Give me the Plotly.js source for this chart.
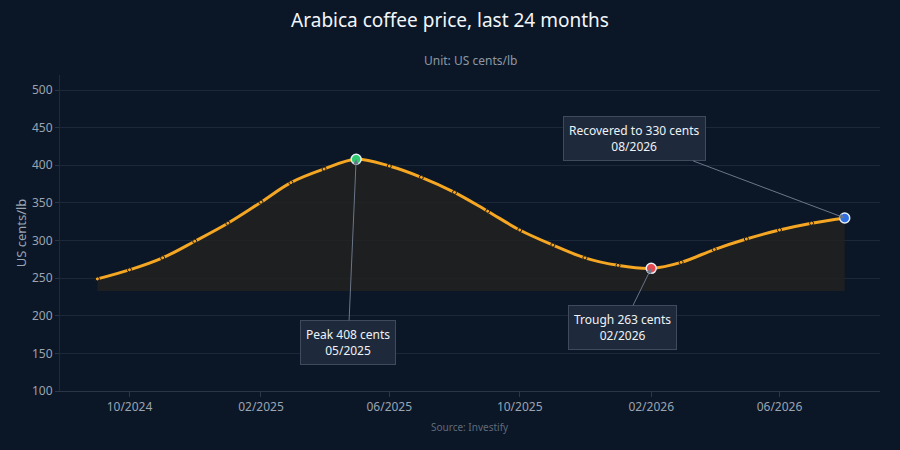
<!DOCTYPE html>
<html>
<head>
<meta charset="utf-8">
<script src="https://cdn.plot.ly/plotly-3.0.1.min.js"></script>
<style>
  html, body { margin: 0; padding: 0; background: #0b1727; }
  #chart { width: 900px; height: 450px; }
</style>
</head>
<body>
<div id="chart"></div>
<script>
// monthly prices, US cents/lb
const months = ["2024-09-01","2024-10-01","2024-11-01","2024-12-01","2025-01-01","2025-02-01",
  "2025-03-01","2025-04-01","2025-05-01","2025-06-01","2025-07-01","2025-08-01",
  "2025-09-01","2025-10-01","2025-11-01","2025-12-01","2026-01-01","2026-02-01",
  "2026-03-01","2026-04-01","2026-05-01","2026-06-01","2026-07-01","2026-08-01"]
const prices = [249, 261, 277, 299, 323, 351, 377, 395, 408, 399, 384, 364,
  339, 314, 294, 277, 267, 263, 271, 288, 302, 314, 323, 330]

const peakIdx = prices.indexOf(Math.max(...prices))
// trough = lowest point after the peak
const afterPeak = prices.slice(peakIdx)
const troughIdx = peakIdx + afterPeak.indexOf(Math.min(...afterPeak))
const lastIdx = prices.length - 1
const floorVal = prices[troughIdx] - 30

const font = "Noto Sans, Open Sans, sans-serif"
const orange = "#f5a623"

function mmYYYY(d) { return d.slice(5, 7) + "/" + d.slice(0, 4) }

const traces = [
  // invisible floor for the shaded area
  {x: months, y: months.map(() => floorVal), mode: "lines", line: {width: 0},
   hoverinfo: "skip", showlegend: false},
  {x: months, y: prices, mode: "lines+markers", fill: "tonexty", fillcolor: "rgba(35,33,31,0.78)",
   line: {color: orange, width: 3, shape: "spline"},
   marker: {size: 4, color: orange, line: {color: "#1a1a1a", width: 1}},
   showlegend: false},
  // highlighted points
  {x: [months[peakIdx], months[troughIdx], months[lastIdx]],
   y: [prices[peakIdx], prices[troughIdx], prices[lastIdx]],
   mode: "markers", showlegend: false,
   marker: {size: 10, color: ["#2ecc71", "#e5484d", "#2f6fe4"], line: {color: "#e8eef5", width: 1.5}}}
]

function note(i, text, ax, ay) {
  return {x: months[i], y: prices[i], xref: "x", yref: "y", text: text,
    showarrow: true, arrowhead: 2, arrowsize: 1, arrowwidth: 1, arrowcolor: "#6b7689",
    ax: ax, ay: ay, bgcolor: "#1e2a3b", bordercolor: "#3f4b5d", borderwidth: 1, borderpad: 5,
    font: {family: font, size: 12, color: "#eef2f7"}}
}

const layout = {
  width: 900, height: 450,
  paper_bgcolor: "#0b1727", plot_bgcolor: "#0b1727",
  margin: {l: 60, r: 20, t: 75, b: 59},
  font: {family: font, color: "#9aa4b2"},
  title: {text: "Arabica coffee price, last 24 months", x: 0.5, xanchor: "center",
    y: 0.955, yanchor: "middle",
    font: {family: font, size: 19, color: "#f2f5f9"}},
  xaxis: {type: "date", range: ["2024-07-28", "2026-09-03"], tick0: "2024-10-01", dtick: "M4",
    tickformat: "%m/%Y", showgrid: false, zeroline: false,
    showline: true, linecolor: "#2a3648", ticks: "outside", ticklen: 5, tickcolor: "#2a3648",
    tickfont: {size: 12, color: "#9aa4b2"}},
  yaxis: {range: [100, 520], dtick: 50, gridcolor: "#1b283a", zeroline: false,
    showline: true, linecolor: "#1e2b3d", ticks: "outside", ticklen: 4, tickcolor: "#2a3648",
    tickfont: {size: 12, color: "#9aa4b2"},
    title: {text: "US cents/lb", standoff: 2, font: {size: 13, color: "#9aa4b2"}}},
  annotations: [
    note(peakIdx, "Peak " + prices[peakIdx] + " cents<br>" + mmYYYY(months[peakIdx]), -8, 183),
    note(troughIdx, "Trough " + prices[troughIdx] + " cents<br>" + mmYYYY(months[troughIdx]), -29, 59),
    note(lastIdx, "Recovered to " + prices[lastIdx] + " cents<br>" + mmYYYY(months[lastIdx]), -210, -79),
    {text: "Unit: US cents/lb", xref: "paper", yref: "paper", x: 0.5, y: 1.047, yanchor: "middle",
      showarrow: false, font: {family: font, size: 12, color: "#8d97a6"}},
    {text: "Source: Investify", xref: "paper", yref: "paper", x: 0.5, y: -0.114, yanchor: "middle",
      showarrow: false, font: {family: font, size: 10, color: "#5f6a7a"}}
  ],
  hovermode: false
}

Plotly.newPlot("chart", traces, layout, {displayModeBar: false, staticPlot: true})
</script>
</body>
</html>
